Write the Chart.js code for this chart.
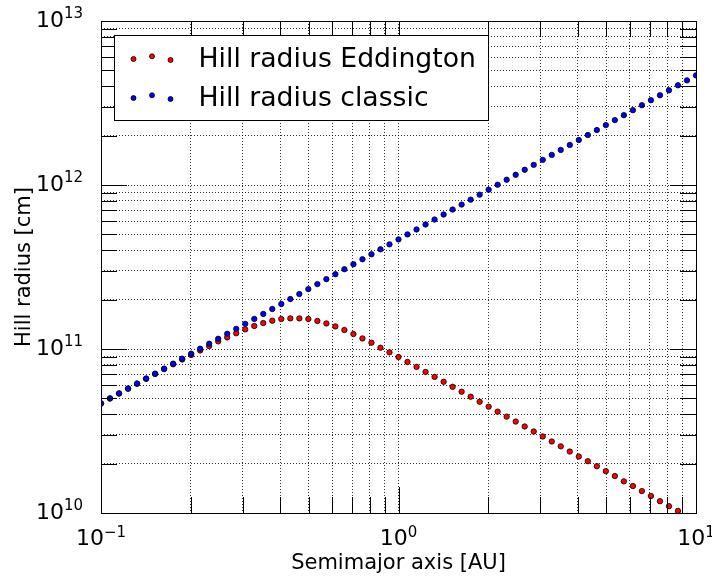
<!DOCTYPE html>
<html>
<head>
<meta charset="utf-8">
<script src="https://cdn.jsdelivr.net/npm/chart.js@4.4.1/dist/chart.umd.min.js"></script>
<style>
html, body { margin: 0; padding: 0; background: #ffffff; }
#wrap { width: 712px; height: 576px; }
</style>
</head>
<body>
<div id="wrap"><canvas id="c" width="712" height="576"></canvas></div>
<script>
// ---------- data ----------
const semimajorAxis = [
  0.1, 0.1072, 0.1150, 0.1233, 0.1322, 0.1418, 0.1520, 0.1630, 0.1748, 0.1874,
  0.2009, 0.2154, 0.2310, 0.2477, 0.2656, 0.2848, 0.3054, 0.3275, 0.3511, 0.3765,
  0.4037, 0.4329, 0.4642, 0.4977, 0.5337, 0.5722, 0.6136, 0.6579, 0.7055, 0.7565,
  0.8111, 0.8697, 0.9326, 1.0, 1.072, 1.150, 1.233, 1.322, 1.418, 1.520,
  1.630, 1.748, 1.874, 2.009, 2.154, 2.310, 2.477, 2.656, 2.848, 3.054,
  3.275, 3.511, 3.765, 4.037, 4.329, 4.642, 4.977, 5.337, 5.722, 6.136,
  6.579, 7.055, 7.565, 8.111, 8.697, 9.326, 10.0
];
const hillClassic = [
  4.66e10, 5.00e10, 5.36e10, 5.74e10, 6.16e10, 6.61e10, 7.08e10, 7.59e10, 8.14e10, 8.73e10,
  9.36e10, 1.004e11, 1.077e11, 1.154e11, 1.238e11, 1.327e11, 1.423e11, 1.526e11, 1.636e11, 1.754e11,
  1.881e11, 2.017e11, 2.163e11, 2.319e11, 2.487e11, 2.667e11, 2.859e11, 3.066e11, 3.288e11, 3.525e11,
  3.780e11, 4.053e11, 4.346e11, 4.66e11, 4.997e11, 5.358e11, 5.745e11, 6.160e11, 6.606e11, 7.083e11,
  7.595e11, 8.143e11, 8.732e11, 9.363e11, 1.004e12, 1.077e12, 1.154e12, 1.238e12, 1.327e12, 1.423e12,
  1.526e12, 1.636e12, 1.754e12, 1.881e12, 2.017e12, 2.163e12, 2.319e12, 2.487e12, 2.667e12, 2.859e12,
  3.066e12, 3.288e12, 3.525e12, 3.780e12, 4.053e12, 4.346e12, 4.66e12
];
const hillEddington = [
  4.65e10, 4.99e10, 5.35e10, 5.73e10, 6.14e10, 6.58e10, 7.04e10, 7.54e10, 8.07e10, 8.63e10,
  9.20e10, 9.80e10, 1.043e11, 1.113e11, 1.177e11, 1.247e11, 1.317e11, 1.381e11, 1.440e11, 1.488e11,
  1.524e11, 1.537e11, 1.537e11, 1.524e11, 1.482e11, 1.432e11, 1.373e11, 1.306e11, 1.234e11, 1.160e11,
  1.092e11, 1.018e11, 9.54e10, 8.94e10, 8.34e10, 7.78e10, 7.25e10, 6.76e10, 6.31e10, 5.88e10,
  5.49e10, 5.12e10, 4.77e10, 4.45e10, 4.15e10, 3.87e10, 3.61e10, 3.37e10, 3.14e10, 2.93e10,
  2.73e10, 2.55e10, 2.37e10, 2.21e10, 2.07e10, 1.93e10, 1.80e10, 1.68e10, 1.56e10, 1.46e10,
  1.36e10, 1.27e10, 1.18e10, 1.10e10, 1.03e10, 9.6e9, 8.9e9
];
const seriesLabels = ['Hill radius Eddington', 'Hill radius classic'];
const seriesColors = ['#ff0000', '#0000ff'];
const xAxisTitle = 'Semimajor axis [AU]';
const yAxisTitle = 'Hill radius [cm]';

const xTickValues = [0.1, 0.2, 0.3, 0.4, 0.5, 0.6, 0.7, 0.8, 0.9, 1, 2, 3, 4, 5, 6, 7, 8, 9, 10];
const yTickValues = [1e10, 2e10, 3e10, 4e10, 5e10, 6e10, 7e10, 8e10, 9e10,
                     1e11, 2e11, 3e11, 4e11, 5e11, 6e11, 7e11, 8e11, 9e11,
                     1e12, 2e12, 3e12, 4e12, 5e12, 6e12, 7e12, 8e12, 9e12, 1e13];
const xMajorTicks = [0.1, 1, 10];
const xTickExponents = ['\u22121', '0', '1'];
const yMajorTicks = [1e10, 1e11, 1e12, 1e13];
const yTickExponents = ['10', '11', '12', '13'];

// ---------- build ----------
function pts(xs, ys) { return xs.map((x, i) => ({ x: x, y: ys[i] })); }

const FONT = '"DejaVu Sans", "Liberation Sans", sans-serif';

const decorPlugin = {
  id: 'decor',
  afterDatasetsDraw(chart) {
    const ctx = chart.ctx;
    const ca = chart.chartArea;
    const xs = chart.scales.x, ys = chart.scales.y;
    const al = v => Math.round(v) + 0.5;
    ctx.save();
    ctx.strokeStyle = '#000';
    ctx.lineWidth = 1;
    ctx.setLineDash([]);
    // ticks, inward on all sides
    xs.ticks.forEach(t => {
      const px = al(xs.getPixelForValue(t.value));
      const len = xMajorTicks.includes(t.value) ? 26 : 16;
      ctx.beginPath();
      ctx.moveTo(px, ca.bottom); ctx.lineTo(px, ca.bottom - len);
      ctx.moveTo(px, ca.top); ctx.lineTo(px, ca.top + len);
      ctx.stroke();
    });
    ys.ticks.forEach(t => {
      const py = al(ys.getPixelForValue(t.value));
      const len = yMajorTicks.includes(t.value) ? 26 : 16;
      ctx.beginPath();
      ctx.moveTo(ca.left, py); ctx.lineTo(ca.left + len, py);
      ctx.moveTo(ca.right, py); ctx.lineTo(ca.right - len, py);
      ctx.stroke();
    });
    // frame
    const l = al(ca.left), r = al(ca.right), tp = al(ca.top), b = al(ca.bottom);
    ctx.strokeRect(l, tp, r - l, b - tp);

    // tick labels (10 with superscript exponent)
    ctx.fillStyle = '#000';
    ctx.textBaseline = 'alphabetic';
    const bigFont = '22px ' + FONT, smallFont = '15px ' + FONT;
    xMajorTicks.forEach((v, i) => {
      const px = xs.getPixelForValue(v);
      ctx.font = bigFont; const w1 = ctx.measureText('10').width;
      ctx.font = smallFont; const w2 = ctx.measureText(xTickExponents[i]).width;
      const x0 = px - (w1 + w2) / 2;
      ctx.textAlign = 'left';
      ctx.font = bigFont; ctx.fillText('10', x0, ca.bottom + 32);
      ctx.font = smallFont; ctx.fillText(xTickExponents[i], x0 + w1, ca.bottom + 24);
    });
    yMajorTicks.forEach((v, i) => {
      const py = ys.getPixelForValue(v);
      ctx.font = smallFont; const w2 = ctx.measureText(yTickExponents[i]).width;
      const xr = ca.left - 18;
      ctx.textAlign = 'right';
      ctx.fillText(yTickExponents[i], xr, py - 3);
      ctx.font = bigFont; ctx.fillText('10', xr - w2, py + 6);
    });

    // legend
    const lx = al(ca.left + 13), ly = al(ca.top + 14);
    const lw = 374, lh = 85;
    ctx.fillStyle = '#fff';
    ctx.fillRect(lx, ly, lw, lh);
    ctx.strokeStyle = '#000';
    ctx.strokeRect(lx, ly, lw, lh);
    const dotDx = [19, 37.5, 56], dotDy = [-2, -4.7, -1];
    const rows = [{ ds: 0, cy: ly + 23.5, base: ly + 31 }, { ds: 1, cy: ly + 62.5, base: ly + 70 }];
    rows.forEach(row => {
      const ds = chart.data.datasets[row.ds];
      dotDx.forEach((dx, k) => {
        ctx.beginPath();
        ctx.arc(lx + dx, row.cy + dotDy[k] + 2, 2.5, 0, Math.PI * 2);
        ctx.fillStyle = ds.backgroundColor;
        ctx.fill();
        ctx.lineWidth = 0.8;
        ctx.strokeStyle = '#000';
        ctx.stroke();
      });
      ctx.fillStyle = '#000';
      ctx.font = '26.7px ' + FONT;
      ctx.textAlign = 'left';
      ctx.fillText(ds.label, lx + 84, row.base);
    });
    ctx.restore();
  }
};

new Chart(document.getElementById('c'), {
  type: 'scatter',
  data: {
    datasets: [
      {
        label: seriesLabels[0],
        data: pts(semimajorAxis, hillEddington),
        backgroundColor: seriesColors[0],
        borderColor: '#000',
        borderWidth: 0.8,
        pointRadius: 2.7,
        showLine: false,
        clip: 0,
        order: 1
      },
      {
        label: seriesLabels[1],
        data: pts(semimajorAxis, hillClassic),
        backgroundColor: seriesColors[1],
        borderColor: '#000',
        borderWidth: 0.8,
        pointRadius: 2.7,
        showLine: false,
        clip: 0,
        order: 0
      }
    ]
  },
  options: {
    responsive: false,
    animation: false,
    devicePixelRatio: 1,
    layout: { padding: { left: 0, right: 16, top: 21, bottom: 0 } },
    plugins: { legend: { display: false }, tooltip: { enabled: false } },
    scales: {
      x: {
        type: 'logarithmic',
        position: 'bottom',
        min: 0.1, max: 10,
        afterBuildTicks: s => { s.ticks = xTickValues.map(v => ({ value: v, major: xMajorTicks.includes(v) })); },
        afterFit: s => { s.height = 63; },
        ticks: { display: false },
        grid: { color: 'rgba(0,0,0,0.8)', lineWidth: 1, drawTicks: false },
        border: { display: false, dash: [1, 2] },
        title: { display: true, text: xAxisTitle, color: '#000', font: { family: FONT, size: 21 }, padding: { top: 0, bottom: 0 } }
      },
      y: {
        type: 'logarithmic',
        position: 'left',
        min: 1e10, max: 1e13,
        afterBuildTicks: s => { s.ticks = yTickValues.map(v => ({ value: v, major: yMajorTicks.includes(v) })); },
        afterFit: s => { s.width = 101; },
        ticks: { display: false },
        grid: { color: 'rgba(0,0,0,0.8)', lineWidth: 1, drawTicks: false },
        border: { display: false, dash: [1, 2] },
        title: { display: true, text: yAxisTitle, color: '#000', font: { family: FONT, size: 21 }, padding: { top: 12, bottom: 0 } }
      }
    }
  },
  plugins: [decorPlugin]
});
</script>
</body>
</html>
